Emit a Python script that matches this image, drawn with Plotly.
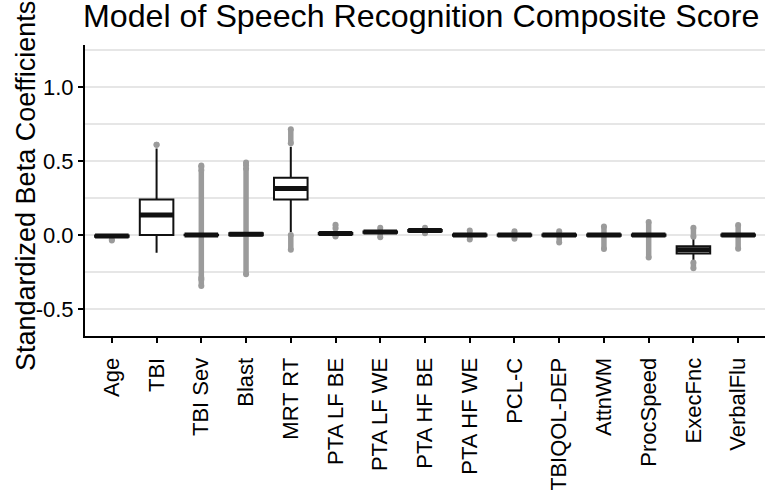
import plotly.graph_objects as go

categories = ["Age", "TBI", "TBI Sev", "Blast", "MRT RT", "PTA LF BE", "PTA LF WE",
              "PTA HF BE", "PTA HF WE", "PCL-C", "TBIQOL-DEP", "AttnWM", "ProcSpeed",
              "ExecFnc", "VerbalFlu"]
q1 = [-0.012, 0.0, -0.002, -0.002, 0.24, 0.006, 0.016, 0.026, -0.004, -0.004, -0.004, -0.004, -0.004, -0.124, -0.004]
median = [-0.007, 0.135, 0.0, 0.005, 0.315, 0.01, 0.02, 0.03, 0.0, 0.0, 0.0, 0.0, 0.0, -0.1, 0.0]
q3 = [-0.003, 0.24, 0.002, 0.012, 0.387, 0.014, 0.024, 0.034, 0.004, 0.004, 0.004, 0.004, 0.004, -0.075, 0.004]
lower_whisker = [-0.02, -0.12, -0.004, -0.01, 0.02, 0.0, 0.01, 0.02, -0.01, -0.01, -0.01, -0.012, -0.012, -0.18, -0.012]
upper_whisker = [0.006, 0.585, 0.004, 0.04, 0.597, 0.025, 0.03, 0.04, 0.01, 0.01, 0.01, 0.012, 0.012, -0.016, 0.012]
# outlier extents per category: list of (low, high) runs of outlying points
outlier_runs = [
    [(-0.036, -0.03)],
    [(0.61, 0.61)],
    [(-0.345, -0.3), (-0.29, 0.44), (0.46, 0.47)],
    [(-0.265, 0.45), (0.47, 0.49)],
    [(-0.10, 0.0), (0.62, 0.715)],
    [(-0.01, -0.005), (0.045, 0.07)],
    [(-0.015, 0.05)],
    [(0.012, 0.05)],
    [(-0.03, 0.03)],
    [(-0.025, 0.025)],
    [(-0.05, 0.025)],
    [(-0.095, 0.058)],
    [(-0.152, 0.088)],
    [(-0.225, -0.185), (-0.012, 0.05)],
    [(-0.092, 0.068)],
]
y_ticks = [-0.5, 0.0, 0.5, 1.0]
y_tick_labels = ["-0.5", "0.0", "0.5", "1.0"]

positions = list(range(len(categories)))
box_width = 0.75
outlier_gray = "#9b9b9b"

fig = go.Figure()

# outliers (drawn first, behind boxes)
ox, oy = [], []
dx, dy = [], []
for i, runs in zip(positions, outlier_runs):
    for lo, hi in runs:
        ox += [i, i, None]
        oy += [lo, hi, None]
        dx += [i, i]
        dy += [lo, hi]
fig.add_trace(go.Scatter(x=ox, y=oy, mode="lines",
                         line=dict(color=outlier_gray, width=5.5),
                         hoverinfo="skip", showlegend=False))
fig.add_trace(go.Scatter(x=dx, y=dy, mode="markers",
                         marker=dict(color=outlier_gray, size=6),
                         hoverinfo="skip", showlegend=False))

fig.add_trace(go.Box(
    x=positions, q1=q1, median=median, q3=q3,
    lowerfence=lower_whisker, upperfence=upper_whisker,
    width=box_width, whiskerwidth=0,
    fillcolor="white", line=dict(color="#111111", width=2),
    boxpoints=False, hoverinfo="skip", showlegend=False,
))

# thick median bars
mx, my = [], []
for i, m in zip(positions, median):
    mx += [i - box_width / 2, i + box_width / 2, None]
    my += [m, m, None]
fig.add_trace(go.Scatter(x=mx, y=my, mode="lines",
                         line=dict(color="#111111", width=5),
                         hoverinfo="skip", showlegend=False))

fig.update_layout(
    width=765, height=490,
    margin=dict(l=85, r=0, t=45, b=154, autoexpand=False),
    paper_bgcolor="white", plot_bgcolor="white",
    font=dict(family="Liberation Sans, Arial, sans-serif", color="black"),
    title=dict(text="Model of Speech Recognition Composite Score",
               font=dict(size=32.2, color="black"),
               x=83 / 765, xanchor="left", xref="container",
               y=1 - 15.5 / 490, yanchor="middle", yref="container"),
    boxmode="overlay",
    annotations=[dict(text="Standardized Beta Coefficients", textangle=-90,
                      xref="paper", yref="paper",
                      x=(26 - 85) / 680, y=(336 - 186) / 291,
                      xanchor="center", yanchor="middle", showarrow=False,
                      font=dict(size=27, color="black"))],
)
fig.update_xaxes(
    range=[-0.6, len(categories) - 0.4],
    tickvals=positions, ticktext=categories, tickangle=-90,
    tickfont=dict(size=22, color="black"),
    ticklabelstandoff=6,
    showline=True, linecolor="black", linewidth=2,
    ticks="outside", ticklen=5, tickwidth=2, tickcolor="black",
    showgrid=False, zeroline=False, automargin=False,
)
fig.update_yaxes(
    range=[-0.682, 1.284],
    tickvals=y_ticks, ticktext=y_tick_labels,
    tickfont=dict(size=22, color="black"),
    showline=True, linecolor="black", linewidth=2,
    ticks="outside", ticklen=5, tickwidth=2, tickcolor="black",
    showgrid=True, gridcolor="#e6e6e6", gridwidth=1.6,
    minor=dict(tickvals=[-0.25, 0.25, 0.75, 1.25], showgrid=True, gridcolor="#e6e6e6", gridwidth=1.6, ticks=""),
    zeroline=False, automargin=False,
)

fig.write_html("out.html", config={"displayModeBar": False},
               post_script="document.body.style.margin='0';")
